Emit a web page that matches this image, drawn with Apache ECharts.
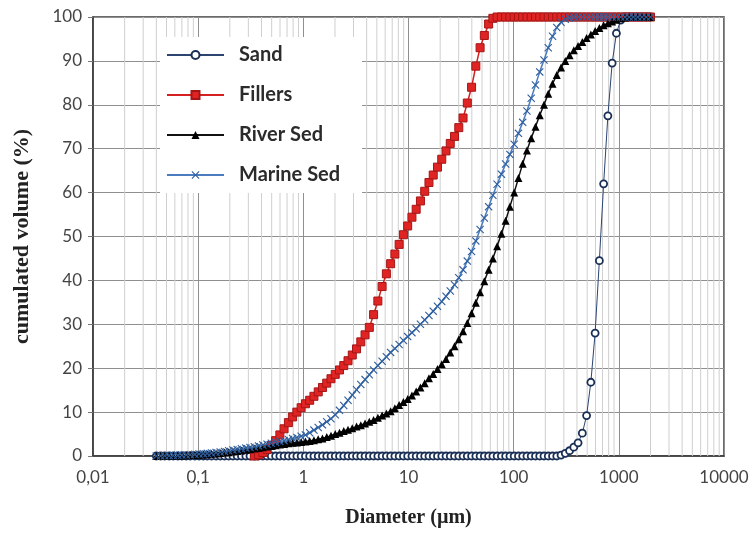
<!DOCTYPE html>
<html>
<head>
<meta charset="utf-8">
<script src="https://cdn.jsdelivr.net/npm/echarts@6/dist/echarts.min.js"></script>
<style>
  html, body { margin: 0; padding: 0; background: #fff; }
  #main { width: 754px; height: 533px; }
</style>
</head>
<body>
<div id="main"></div>
<script>
// channel diameters (µm) of the laser sizer
var diameters = [
  0.040, 0.044, 0.048, 0.053, 0.058, 0.064, 0.070, 0.077, 0.084, 0.093,
  0.102, 0.112, 0.122, 0.134, 0.148, 0.162, 0.178, 0.195, 0.214, 0.235,
  0.258, 0.284, 0.311, 0.342, 0.375, 0.412, 0.452, 0.496, 0.545, 0.598,
  0.656, 0.721, 0.791, 0.868, 0.953, 1.047, 1.149, 1.261, 1.385, 1.520,
  1.669, 1.832, 2.011, 2.208, 2.423, 2.660, 2.920, 3.206, 3.519, 3.863,
  4.241, 4.656, 5.111, 5.611, 6.159, 6.761, 7.422, 8.148, 8.944, 9.819,
  10.78, 11.83, 12.99, 14.26, 15.65, 17.18, 18.86, 20.71, 22.73, 24.95,
  27.39, 30.07, 33.01, 36.24, 39.78, 43.67, 47.94, 52.62, 57.77, 63.41,
  69.61, 76.42, 83.89, 92.09, 101.1, 111.0, 121.8, 133.7, 146.8, 161.2,
  176.9, 194.2, 213.2, 234.1, 256.9, 282.1, 309.6, 339.9, 373.1, 409.6,
  449.7, 493.6, 541.9, 594.9, 653.0, 716.9, 786.9, 863.9, 948.3, 1041,
  1143, 1255, 1377, 1512, 1660, 1822, 2000
];

// cumulated volume (%) per channel
var sand = [
  0, 0, 0, 0, 0, 0, 0, 0, 0, 0,
  0, 0, 0, 0, 0, 0, 0, 0, 0, 0,
  0, 0, 0, 0, 0, 0, 0, 0, 0, 0,
  0, 0, 0, 0, 0, 0, 0, 0, 0, 0,
  0, 0, 0, 0, 0, 0, 0, 0, 0, 0,
  0, 0, 0, 0, 0, 0, 0, 0, 0, 0,
  0, 0, 0, 0, 0, 0, 0, 0, 0, 0,
  0, 0, 0, 0, 0, 0, 0, 0, 0, 0,
  0, 0, 0, 0, 0, 0, 0, 0, 0, 0,
  0, 0, 0, 0, 0, 0.2, 0.6, 1.2, 2.0, 3.0,
  5.2, 9.2, 16.8, 28.0, 44.5, 62.0, 77.5, 89.5, 96.3, 99.3,
  100, 100, 100, 100, 100, 100, 100
];

var fillers = [
  null, null, null, null, null, null, null, null, null, null,
  null, null, null, null, null, null, null, null, null, null,
  null, null, null, 0, 0.3, 0.8, 1.5, 2.4, 3.5, 4.8,
  6.2, 7.6, 8.9, 10.0, 11.0, 11.9, 12.7, 13.6, 14.6, 15.6,
  16.6, 17.6, 18.6, 19.6, 20.6, 21.7, 23.0, 24.4, 26.0, 27.6,
  29.3, 32.2, 35.3, 38.6, 41.5, 43.8, 46.0, 48.2, 50.4, 52.4,
  54.4, 56.2, 58.1, 60.3, 62.3, 64.0, 65.8, 67.6, 69.5, 71.2,
  72.8, 74.8, 77.0, 80.4, 84.0, 88.8, 93.0, 95.8, 98.4, 99.7,
  100, 100, 100, 100, 100, 100, 100, 100, 100, 100,
  100, 100, 100, 100, 100, 100, 100, 100, 100, 100,
  100, 100, 100, 100, 100, 100, 100, 100, 100, 100,
  100, 100, 100, 100, 100, 100, 100
];

var riverSed = [
  0, 0.02, 0.04, 0.06, 0.08, 0.1, 0.13, 0.17, 0.2, 0.25,
  0.3, 0.36, 0.42, 0.5, 0.58, 0.67, 0.77, 0.88, 1.0, 1.12,
  1.25, 1.4, 1.55, 1.7, 1.85, 2.0, 2.15, 2.3, 2.45, 2.6,
  2.75, 2.9, 3.0, 3.1, 3.2, 3.3, 3.4, 3.6, 3.8, 4.0,
  4.3, 4.6, 5.0, 5.3, 5.7, 6.0, 6.3, 6.7, 7.0, 7.4,
  7.8, 8.2, 8.7, 9.2, 9.7, 10.2, 10.9, 11.6, 12.3, 13.0,
  13.8, 14.7, 15.6, 16.6, 17.7, 18.7, 19.8, 20.9, 22.1, 23.6,
  25.0, 26.6, 28.4, 30.3, 32.5, 34.9, 37.3, 39.8, 42.4, 45.0,
  47.8, 50.6, 53.6, 56.8, 60.0, 63.3, 66.6, 69.6, 72.4, 75.0,
  77.6, 80.0, 82.5, 84.8, 86.8, 88.5, 90.0, 91.3, 92.4, 93.4,
  94.3, 95.2, 96.0, 96.8, 97.5, 98.1, 98.6, 99.0, 99.4, 99.7,
  99.9, 100, 100, 100, 100, 100, 100
];

var marineSed = [
  0, 0.02, 0.05, 0.08, 0.1, 0.15, 0.2, 0.25, 0.3, 0.38,
  0.45, 0.53, 0.6, 0.7, 0.8, 0.92, 1.05, 1.2, 1.35, 1.5,
  1.65, 1.8, 1.95, 2.1, 2.3, 2.5, 2.7, 2.9, 3.1, 3.3,
  3.5, 3.75, 4.0, 4.2, 4.5, 4.8, 5.3, 5.9, 6.5, 7.1,
  7.8, 8.5, 9.4, 10.4, 11.5, 12.7, 13.9, 15.1, 16.3, 17.4,
  18.5, 19.6, 20.6, 21.6, 22.6, 23.6, 24.5, 25.4, 26.3, 27.2,
  28.1, 29.0, 30.0, 31.0, 32.0, 33.0, 34.1, 35.2, 36.4, 37.6,
  39.0, 40.6, 42.4, 44.4, 46.6, 49.0, 51.6, 54.2, 56.8, 59.4,
  61.9, 64.2, 66.5, 68.7, 71.0, 73.5, 76.0, 78.6, 81.5, 84.5,
  87.5, 90.2, 93.0, 95.6, 97.6, 98.8, 99.5, 99.8, 100, 100,
  100, 100, 100, 100, 100, 100, 100, 100, 100, 100,
  100, 100, 100, 100, 100, 100, 100
];

var xTickLabels = ['0,01', '0,1', '1', '10', '100', '1000', '10000'];

// minor vertical grid lines at 2..9 x 10^k
var minorGrid = [];
for (var k = -2; k < 4; k++) {
  for (var m = 2; m <= 9; m++) {
    minorGrid.push(m * Math.pow(10, k));
  }
}

function pairs(vals) {
  var out = [];
  vals.forEach(function (v, i) {
    if (v !== null) out.push([diameters[i], v]);
  });
  return out;
}

var crossPath = 'path://M0,1L1,0L5,4L9,0L10,1L6,5L10,9L9,10L5,6L1,10L0,9L4,5Z';

var chart = echarts.init(document.getElementById('main'));

chart.setOption({
  backgroundColor: '#fff',
  animation: false,
  grid: {
    left: 93, right: 30, top: 17, bottom: 76,
    show: true, borderColor: '#3a3a3a', borderWidth: 1.5
  },
  legend: {
    orient: 'vertical',
    left: 160, top: 37,
    backgroundColor: '#fff',
    padding: [8, 22, 8, 6],
    itemWidth: 57, itemHeight: 10, itemGap: 20,
    textStyle: { fontFamily: 'Lato', fontWeight: 'bold', fontSize: 20, color: '#2b2b2b', padding: [0, 0, 0, 10] },
    data: ['Sand', 'Fillers', 'River Sed', 'Marine Sed']
  },
  xAxis: {
    type: 'log', logBase: 10, min: 0.01, max: 10000,
    name: 'Diameter (µm)', nameLocation: 'middle', nameGap: 52,
    nameTextStyle: { fontFamily: 'Liberation Serif', fontWeight: 'bold', fontSize: 20, color: '#222' },
    axisLine: { show: true, lineStyle: { color: '#3a3a3a', width: 1.5 } },
    axisTick: { show: false },
    axisLabel: {
      margin: 13, fontFamily: 'Lato', fontSize: 17, color: '#444',
      formatter: function (v) { return xTickLabels[Math.round(Math.log10(v)) + 2]; }
    },
    splitLine: { show: true, lineStyle: { color: '#8f8f8f', width: 1 } }
  },
  yAxis: {
    type: 'value', min: 0, max: 100, interval: 10,
    name: 'cumulated volume (%)', nameLocation: 'middle', nameGap: 60,
    nameTextStyle: { fontFamily: 'Liberation Serif', fontWeight: 'bold', fontSize: 22, color: '#222' },
    axisLine: { show: true, lineStyle: { color: '#3a3a3a', width: 1.5 } },
    axisTick: { show: true, length: 5, lineStyle: { color: '#777' } },
    axisLabel: { margin: 11, fontFamily: 'Lato', fontSize: 17, color: '#444' },
    splitLine: { show: true, lineStyle: { color: '#8f8f8f', width: 1 } }
  },
  series: [
    {
      type: 'custom', silent: true, z: 1,
      data: minorGrid,
      renderItem: function (params, api) {
        var v = api.value(0);
        var p0 = api.coord([v, 0]);
        var p1 = api.coord([v, 100]);
        return {
          type: 'line',
          shape: { x1: p0[0], y1: p0[1], x2: p1[0], y2: p1[1] },
          style: { stroke: '#cfcfcf', lineWidth: 1 }
        };
      },
      encode: { x: 0 }
    },
    {
      name: 'Sand', type: 'line', data: pairs(sand),
      symbol: 'circle', symbolSize: 7,
      lineStyle: { color: '#2b4470', width: 1 },
      itemStyle: { color: '#fff', borderColor: '#1a2f55', borderWidth: 1.8 }
    },
    {
      name: 'Fillers', type: 'line', data: pairs(fillers),
      symbol: 'rect', symbolSize: 8,
      lineStyle: { color: '#d42020', width: 1.5 },
      itemStyle: { color: '#e02424', borderColor: '#a51515', borderWidth: 1 }
    },
    {
      name: 'River Sed', type: 'line', data: pairs(riverSed),
      symbol: 'triangle', symbolSize: 8,
      lineStyle: { color: '#111', width: 1.5 },
      itemStyle: { color: '#000' }
    },
    {
      name: 'Marine Sed', type: 'line', data: pairs(marineSed),
      symbol: crossPath, symbolSize: 8,
      lineStyle: { color: '#4a7cbf', width: 1.5 },
      itemStyle: { color: '#2f5f9e' }
    }
  ]
});
</script>
</body>
</html>
